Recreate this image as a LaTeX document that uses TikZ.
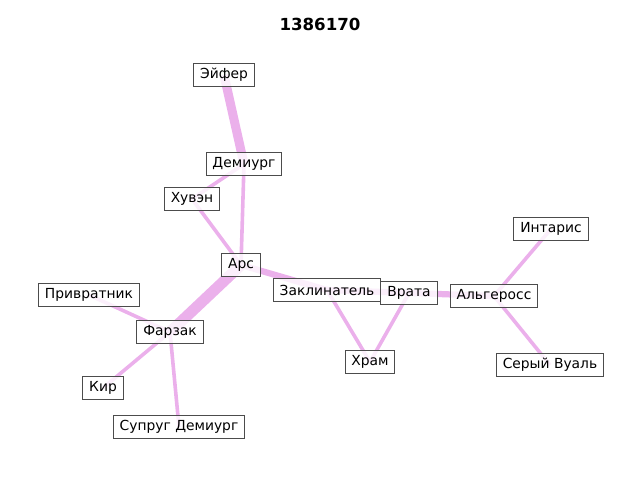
\documentclass[tikz,border=0pt]{standalone}
\usepackage{fontspec}
\setmainfont{DejaVu Sans}
\usetikzlibrary{backgrounds}
\definecolor{kante}{RGB}{235,176,235}
\begin{document}
\begin{tikzpicture}[
    x=0.01in, y=-0.01in,
    kante/.style  = {draw=kante, line width=2.6pt},
    knoten/.style = {draw=black!70, fill=white, fill opacity=0.8, text opacity=1,
                     inner xsep=4.6pt, minimum height=17.3pt, line width=0.7pt,
                     font=\fontsize{10}{12}\selectfont},
  ]
	\useasboundingbox (0,0) rectangle (640,480);

	% Titel
	\node (titel) at (320,24) {\fontsize{12}{14}\selectfont\bfseries 1386170};

	% Knoten
	\node[knoten] (eyfer)   at (224,75)  {Эйфер};
	\node[knoten] (demiurg) at (244,164) {Демиург};
	\node[knoten] (huven)   at (192,199) {Хувэн};
	\node[knoten] (ars)     at (241,265) {Арс};
	\node[knoten] (zaklin)  at (327,290) {Заклинатель};
	\node[knoten] (vrata)   at (409,293) {Врата};
	\node[knoten] (alger)   at (494,296) {Альгеросс};
	\node[knoten] (intaris) at (551,229) {Интарис};
	\node[knoten] (seryj)   at (550,365) {Серый Вуаль};
	\node[knoten] (hram)    at (370,362) {Храм};
	\node[knoten] (privrat) at (89,295)  {Привратник};
	\node[knoten] (farzak)  at (170,332) {Фарзак};
	\node[knoten] (kir)     at (103,388) {Кир};
	\node[knoten] (suprug)  at (179,427) {Супруг Демиург};

	% Kanten
	\begin{scope}[on background layer]
	\draw[kante, line width=6.5pt] (eyfer.center) -- (demiurg.center);
	\draw[kante] (demiurg.center) -- (huven.center);
	\draw[kante] (demiurg.center) -- (ars.center);
	\draw[kante] (huven.center) -- (ars.center);
	\draw[kante, line width=4.5pt] (ars.center) -- (zaklin.center);
	\draw[kante, line width=8pt] (ars.center) -- (farzak.center);
	\draw[kante] (farzak.center) -- (privrat.center);
	\draw[kante] (farzak.center) -- (kir.center);
	\draw[kante] (farzak.center) -- (suprug.center);
	\draw[kante] (zaklin.center) -- (hram.center);
	\draw[kante] (vrata.center) -- (hram.center);
	\draw[kante, line width=4.5pt] (zaklin.center) -- (alger.center);
	\draw[kante] (alger.center) -- (intaris.center);
	\draw[kante] (alger.center) -- (seryj.center);
	\end{scope}
\end{tikzpicture}
\end{document}
